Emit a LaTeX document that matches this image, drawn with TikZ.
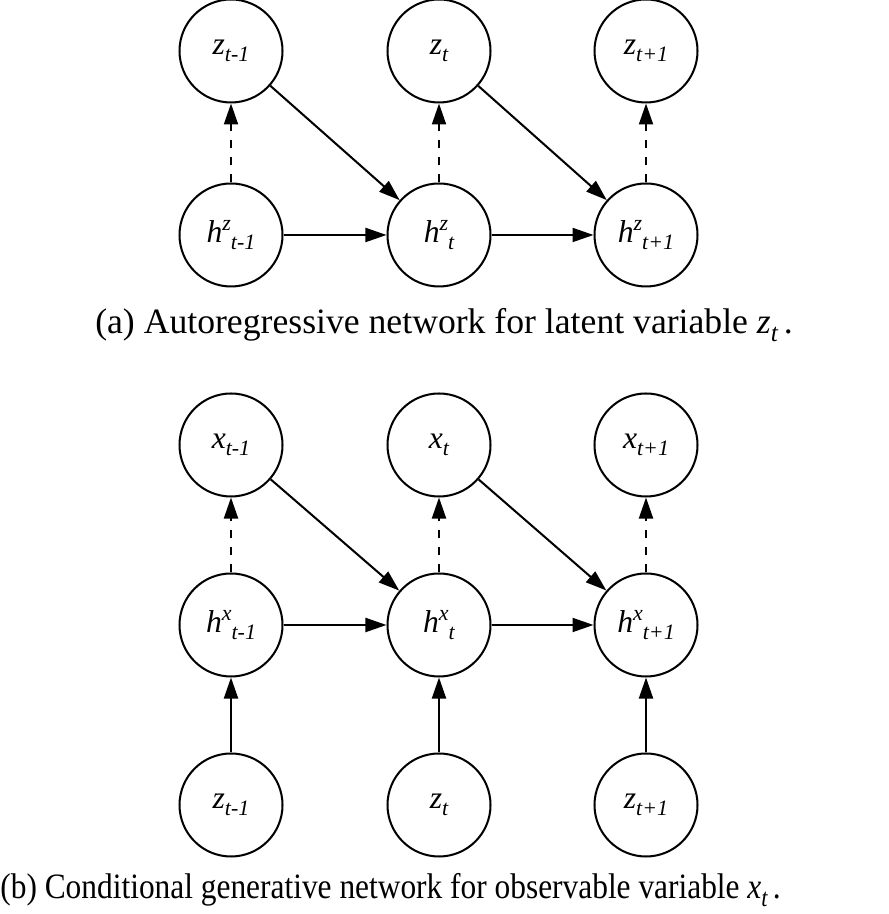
\documentclass[tikz,border=0pt]{standalone}
\usepackage{fontspec}
\setmainfont{Liberation Serif}
\usetikzlibrary{arrows.meta}
\newcommand{\lowtxt}[1]{\raisebox{-0.45ex}{\fontsize{12.5}{13}\selectfont\itshape #1}}
\newcommand{\hightxt}[1]{\raisebox{0.8ex}{\fontsize{12.5}{13}\selectfont\itshape #1}}
\newcommand{\caplow}[1]{\raisebox{-0.45ex}{\fontsize{14.5}{15}\selectfont\itshape #1}}
\tikzset{
  var/.style={circle, draw, line width=1.15pt, minimum size=2.06cm, inner sep=0pt,
    font=\fontsize{18}{20}\selectfont\itshape},
  link/.style={line width=1.15pt, -{Triangle[length=0.42cm,width=0.28cm]}},
  emit/.style={link, dash pattern=on 0.17cm off 0.17cm},
  capt/.style={font=\fontsize{20.3}{22}\selectfont, inner sep=0pt}
}
\begin{document}
\begin{tikzpicture}
\useasboundingbox (0,0) rectangle (17.76,18.28);
% (a) latent chain
\node[var] (za1) at (4.62,17.26){z\lowtxt{t-1}};
\node[var] (za2) at (8.78,17.26){z\lowtxt{t}};
\node[var] (za3) at (12.92,17.26){z\lowtxt{t+1}};
\node[var] (hz1) at (4.62,13.58){h\hightxt{z}\lowtxt{t-1}};
\node[var] (hz2) at (8.78,13.58){h\hightxt{z}\lowtxt{t}};
\node[var] (hz3) at (12.92,13.58){h\hightxt{z}\lowtxt{t+1}};
\draw[emit](hz1)--(za1);
\draw[emit](hz2)--(za2);
\draw[emit](hz3)--(za3);
\draw[link](hz1)--(hz2);
\draw[link](hz2)--(hz3);
\draw[link](za1)--(hz2);
\draw[link](za2)--(hz3);
\node[capt, anchor=base] (capa) at (8.88,11.60){(a) Autoregressive network for latent variable \textit{z}\caplow{t}\,.};

% (b) observable chain
\node[var] (x1) at (4.62,9.38){x\lowtxt{t-1}};
\node[var] (x2) at (8.78,9.38){x\lowtxt{t}};
\node[var] (x3) at (12.92,9.38){x\lowtxt{t+1}};
\node[var] (hx1) at (4.62,5.78){h\hightxt{x}\lowtxt{t-1}};
\node[var] (hx2) at (8.78,5.78){h\hightxt{x}\lowtxt{t}};
\node[var] (hx3) at (12.92,5.78){h\hightxt{x}\lowtxt{t+1}};
\node[var] (zb1) at (4.62,2.18){z\lowtxt{t-1}};
\node[var] (zb2) at (8.78,2.18){z\lowtxt{t}};
\node[var] (zb3) at (12.92,2.18){z\lowtxt{t+1}};
\draw[emit](hx1)--(x1);
\draw[emit](hx2)--(x2);
\draw[emit](hx3)--(x3);
\draw[link](hx1)--(hx2);
\draw[link](hx2)--(hx3);
\draw[link](x1)--(hx2);
\draw[link](x2)--(hx3);
\draw[link](zb1)--(hx1);
\draw[link](zb2)--(hx2);
\draw[link](zb3)--(hx3);
\node[capt, anchor=base west] (capb) at (0,0.30){\scalebox{0.88}[1]{(b) Conditional generative network for observable variable \textit{x}\caplow{t}\,.}};
\end{tikzpicture}
\end{document}
